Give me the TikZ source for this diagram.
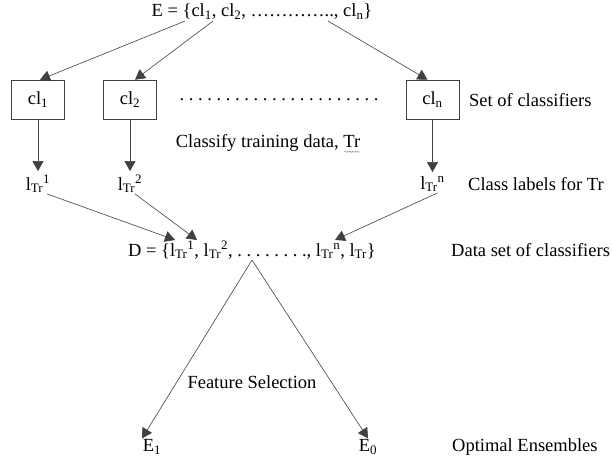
\documentclass[tikz,border=0pt]{standalone}
\usepackage{fontspec}
\setmainfont{Liberation Serif}
\usetikzlibrary{arrows.meta,decorations.pathmorphing}
\begin{document}
\begin{tikzpicture}[x=1pt,y=-1pt,
        font=\fontsize{18.5}{22}\selectfont\frenchspacing,
        every node/.style={inner sep=1pt},
        clbox/.style={draw=black!75,line width=0.6pt,minimum width=53pt,minimum height=39pt,inner sep=0pt},
        arr/.style={draw=black!75,line width=0.6pt,-{Triangle[length=10pt,width=11pt]}},
        side/.style={anchor=west}]
    \useasboundingbox (0,0) rectangle (612,464);
    %% ensemble of classifiers
    \node (E) at (262,12) {E = \{cl\textsubscript{1}, cl\textsubscript{2}, …………..,  cl\textsubscript{n}\}};
    %% classifiers and their labels
    \foreach \i/\x in {1/38,2/130,n/432.5} {
        \node[clbox] (cl\i) at (\x,99.5) {cl\textsubscript{\i}};
        \node (lt\i) at (\x,184) {l\textsubscript{Tr}\textsuperscript{\i}};
        \draw[arr,shorten >=3pt] (cl\i) -- (lt\i);
    }
    \node (dots) at (279,100) {. . . . . . . . . . . . . . . . . . . . . .};
    \draw[arr] ([xshift=-77pt]E.south) -- ([xshift=2pt]cl1.north);
    \draw[arr] ([xshift=-49pt]E.south) -- ([xshift=5pt]cl2.north);
    \draw[arr] ([xshift=66pt]E.south) -- ([xshift=-5pt]cln.north);
    \node (cls) at (268,143) {Classify training data, Tr};
    \draw[black!45,line width=0.4pt,decorate,decoration={snake,amplitude=0.7pt,segment length=2.5pt}]
        ([xshift=-17pt,yshift=1pt]cls.south east) -- ([xshift=-1pt,yshift=1pt]cls.south east);
    %% data set
    \node (D) at (252,250) {D = \{l\textsubscript{Tr}\textsuperscript{1}, l\textsubscript{Tr}\textsuperscript{2}, . . . . . . . ., l\textsubscript{Tr}\textsuperscript{n}, l\textsubscript{Tr}\}};
    \draw[arr] ([xshift=9pt]lt1.south) -- ([xshift=-77pt]D.north);
    \draw[arr] ([xshift=5pt]lt2.south) -- ([xshift=-55pt]D.north);
    \draw[arr] ([xshift=5pt]ltn.south) -- ([xshift=83pt]D.north);
    %% feature selection
    \node (fs) at (252,382) {Feature Selection};
    \node (E1) at (152,447) {E\textsubscript{1}};
    \node (E0) at (368,447) {E\textsubscript{0}};
    \draw[arr] (D.south) -- ([xshift=-10pt]E1.north);
    \draw[arr] (D.south) -- (E0.north);
    %% side labels
    \node[side] (setcl) at (468,100) {Set of classifiers};
    \node[side] (clab) at (467,184) {Class labels for Tr};
    \node[side] (dset) at (450,250) {Data set of classifiers};
    \node[side] (opt) at (451,447) {Optimal Ensembles};
\end{tikzpicture}
\end{document}
